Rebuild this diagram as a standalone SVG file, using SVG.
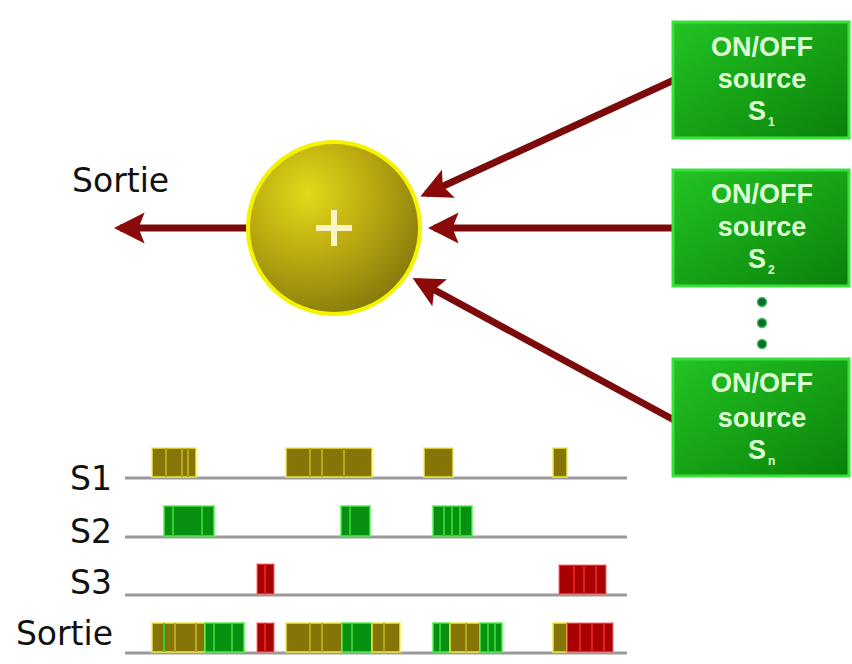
<svg xmlns="http://www.w3.org/2000/svg" width="852" height="664" viewBox="0 0 852 664">
<defs>
<style>
.lbl{font-family:"DejaVu Sans",sans-serif;font-size:33px;fill:#111}
.bt{font-family:"Liberation Sans",Arial,sans-serif;font-weight:bold;font-size:27px;fill:#dcffd4;text-anchor:middle}
.sub{font-family:"Liberation Sans",Arial,sans-serif;font-weight:bold;font-size:12px;fill:#dcffd4}
.box{fill:url(#gbox);stroke:#3ae03a;stroke-width:3}
.arr{stroke:#7c0a0a;stroke-width:7;fill:none;marker-end:url(#ah)}
.axis{stroke:#9a9a9a;stroke-width:3}
.ol{fill:#857508;stroke:#f4f040;stroke-width:2;stroke-opacity:.7}
.gr{fill:#089010;stroke:#50f050;stroke-width:2;stroke-opacity:.7}
.rd{fill:#a80000;stroke:#ff7070;stroke-width:2;stroke-opacity:.5}
.so{stroke:#b8a818;stroke-width:2}
.sg{stroke:#30d030;stroke-width:2}
.sr{stroke:#e02020;stroke-width:2}
.dot{fill:#0a6a2a;stroke:#40c060;stroke-width:1.5}
</style>
<linearGradient id="gbox" x1="0" y1="0" x2="1" y2="1">
<stop offset="0" stop-color="#24c424"/>
<stop offset="0.6" stop-color="#149c14"/>
<stop offset="1" stop-color="#0a800a"/>
</linearGradient>
<radialGradient id="gball" cx="0.35" cy="0.3" r="0.8">
<stop offset="0" stop-color="#e0da18"/>
<stop offset="0.45" stop-color="#bcaa10"/>
<stop offset="1" stop-color="#7f740c"/>
</radialGradient>
<marker id="ah" viewBox="0 0 10 10" refX="8" refY="5" markerWidth="4.4" markerHeight="4.8" orient="auto" markerUnits="strokeWidth">
<path d="M0,0 L10,5 L0,10 L2,5 Z" fill="#8a0a0a"/>
</marker>
</defs>
<rect x="0" y="0" width="852" height="664" fill="#ffffff"/>

<g id="connectors">
<line class="arr" x1="247" y1="228" x2="120" y2="228"/>
<line class="arr" x1="674" y1="80" x2="426" y2="194"/>
<line class="arr" x1="674" y1="228" x2="434" y2="228"/>
<line class="arr" x1="674" y1="420" x2="418" y2="281"/>
</g>

<g id="sum">
<circle cx="334" cy="228" r="88" fill="#f8f880" opacity="0.5"/>
<circle cx="334" cy="228" r="86" fill="url(#gball)" stroke="#f4f400" stroke-width="4"/>
<path d="M316,228 H352 M334,210 V246" stroke="#f8f4c8" stroke-width="6"/>
</g>

<g id="sortie-label">
<text class="lbl" x="72" y="192">Sortie</text>
</g>

<g id="source1">
<rect class="box" x="673" y="22" width="176" height="116"/>
<text class="bt" x="762" y="56">ON/OFF</text>
<text class="bt" x="762" y="88">source</text>
<text class="bt" x="757" y="120">S</text>
<text class="sub" x="768" y="126">1</text>
</g>

<g id="source2">
<rect class="box" x="673" y="170" width="176" height="116"/>
<text class="bt" x="762" y="203">ON/OFF</text>
<text class="bt" x="762" y="236">source</text>
<text class="bt" x="757" y="268">S</text>
<text class="sub" x="768" y="274">2</text>
</g>

<g id="dots">
<circle class="dot" cx="762" cy="302" r="4.5"/>
<circle class="dot" cx="762" cy="323" r="4.5"/>
<circle class="dot" cx="762" cy="344" r="4.5"/>
</g>

<g id="sourceN">
<rect class="box" x="673" y="359" width="176" height="117"/>
<text class="bt" x="762" y="392">ON/OFF</text>
<text class="bt" x="762" y="427">source</text>
<text class="bt" x="757" y="459">S</text>
<text class="sub" x="768" y="465">n</text>
</g>

<g id="timeline-S1">
<text class="lbl" x="112" y="490" text-anchor="end">S1</text>
<line class="axis" x1="125" y1="478" x2="627" y2="478"/>
<rect class="ol" x="152" y="448" width="44" height="29"/>
<rect class="ol" x="286" y="448" width="86" height="29"/>
<rect class="ol" x="424" y="448" width="29" height="29"/>
<rect class="ol" x="553" y="448" width="14" height="29"/>
<path class="so" d="M166,448V477 M182,448V477 M188,448V477 M310,448V477 M322,448V477 M344,448V477"/>
</g>

<g id="timeline-S2">
<text class="lbl" x="112" y="543" text-anchor="end">S2</text>
<line class="axis" x1="125" y1="537" x2="627" y2="537"/>
<rect class="gr" x="164" y="506" width="50" height="30"/>
<rect class="gr" x="341" y="506" width="29" height="30"/>
<rect class="gr" x="433" y="506" width="39" height="30"/>
<path class="sg" d="M173,506V536 M202,506V536 M350,506V536 M444,506V536 M452,506V536 M460,506V536"/>
</g>

<g id="timeline-S3">
<text class="lbl" x="112" y="594" text-anchor="end">S3</text>
<line class="axis" x1="125" y1="595" x2="627" y2="595"/>
<rect class="rd" x="257" y="564" width="17" height="30"/>
<rect class="rd" x="559" y="565" width="47" height="29"/>
<path class="sr" d="M265,564V594 M574,565V594 M584,565V594 M596,565V594"/>
</g>

<g id="timeline-Sortie">
<text class="lbl" x="113" y="645" text-anchor="end">Sortie</text>
<line class="axis" x1="125" y1="653" x2="627" y2="653"/>
<rect class="ol" x="152" y="623" width="53" height="29"/>
<rect class="gr" x="205" y="623" width="39" height="29"/>
<rect class="rd" x="257" y="623" width="17" height="29"/>
<rect class="ol" x="286" y="623" width="56" height="29"/>
<rect class="gr" x="342" y="623" width="30" height="29"/>
<rect class="ol" x="372" y="623" width="28" height="29"/>
<rect class="gr" x="433" y="623" width="17" height="29"/>
<rect class="ol" x="450" y="623" width="30" height="29"/>
<rect class="gr" x="480" y="623" width="22" height="29"/>
<rect class="ol" x="553" y="623" width="14" height="29"/>
<rect class="rd" x="567" y="623" width="46" height="29"/>
<path class="sg" d="M164,623V652 M214,623V652 M232,623V652 M352,623V652 M440,623V652 M488,623V652 M495,623V652"/>
<path class="so" d="M175,623V652 M196,623V652 M310,623V652 M322,623V652 M384,623V652 M466,623V652"/>
<path class="sr" d="M265,623V652 M580,623V652 M592,623V652 M604,623V652"/>
</g>
</svg>
